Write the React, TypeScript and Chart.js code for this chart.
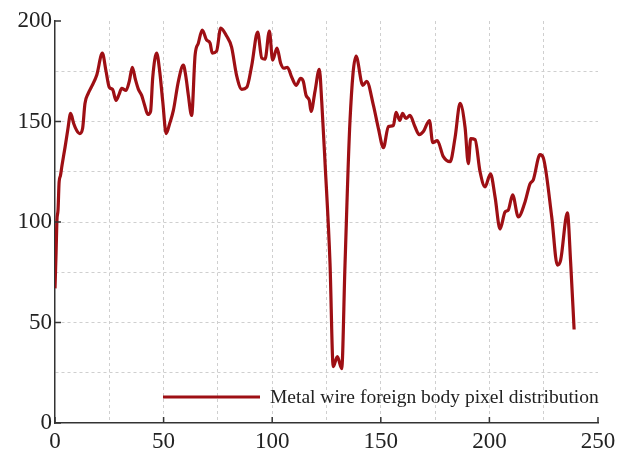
import React, { useEffect, useRef } from "react";
import { Chart, registerables } from "chart.js";

Chart.register(...registerables);

const seriesLabel = "Metal wire foreign body pixel distribution";

const xValues = [
  0, 0.5, 0.9, 1.4, 1.9, 2.5, 3.2, 4.6, 5.9, 7.2, 8.6, 10, 11.4, 12.7, 13.8, 15.3, 16.9, 19.2, 21.8, 23.5,
  25, 26.5, 28.1, 29.5, 30.7, 32.7, 34.2, 35.6, 37, 38.4, 39.9, 41.3, 42.7, 44, 45, 46.8, 48.2, 49.6, 51.2, 52.8,
  54.5, 56.8, 59.1, 60.3, 61.4, 62.9, 64.5, 66, 67.8, 69.8, 71.4, 72.4, 74.4, 76.3, 79, 81.3, 83.6, 86, 88.3, 90.6,
  93.3, 95.2, 96.7, 98.7, 100.2, 102.2, 103.9, 105.4, 107, 109, 111, 113.1, 114.3, 115.6, 117.1, 117.9, 119.7, 121.7, 122.8, 124.3,
  126.6, 128.1, 130, 132, 133.5, 135.8, 138.6, 141.7, 143.5, 146.6, 148.9, 151.2, 153.5, 155.8, 157, 158.8, 160, 161.6, 163.4, 165.7,
  167.7, 169.6, 172.4, 173.9, 176, 178.8, 181.9, 184.2, 186.5, 188.8, 190.3, 191.4, 193.4, 195.7, 198, 200.5, 202.6, 204.9, 207.2, 208.7,
  210.7, 213.3, 216.4, 218.7, 220.2, 223.3, 224.8, 228.7, 231.3, 232.8, 235.9, 237.4, 239,
];

const yValues = [
  67, 85, 101, 106, 120, 123, 128, 137, 146, 154, 149, 145.5, 144, 146.5, 159, 164, 167.5, 173, 184, 175,
  167, 166, 160.5, 163.5, 166.5, 165.5, 170, 177, 171, 166, 163, 158, 153.5, 155, 172, 184, 175, 160, 144, 149,
  155.5, 170, 178, 172, 163, 153, 183, 189, 195.5, 190.5, 189, 184, 185, 196.5, 192.5, 187, 173, 166, 167, 178,
  194.5, 181.5, 181, 195, 180.5, 186.5, 179, 176.5, 177, 172, 168, 171.5, 170, 163, 160.5, 155, 165, 176, 160, 130,
  80, 28, 33, 27, 78, 150, 182.5, 168, 170, 158, 146.5, 137, 147.5, 148, 154.5, 150.5, 154, 151.5, 153, 147.5,
  143.5, 145, 150.5, 139.5, 140.5, 132.5, 130, 142, 159, 147, 129, 141.5, 141, 125, 117.5, 124, 112.5, 96.5, 105, 106,
  113.5, 102.5, 110, 119, 121, 133.5, 132, 102.5, 78.5, 81, 104.5, 80, 46.5,
];

const xTickLabels = [0, 50, 100, 150, 200, 250];
const yTickLabels = [0, 50, 100, 150, 200];

const LINE_COLOR = "#9e0f14";
const AXIS_COLOR = "#333333";
const FONT = "'Liberation Serif', 'Times New Roman', serif";

export default function App() {
  const ref = useRef<HTMLCanvasElement | null>(null);

  useEffect(() => {
    if (!ref.current) return;

    const innerTicks = {
      id: "innerTicks",
      afterDraw(chart: any) {
        const { ctx, chartArea, scales } = chart;
        ctx.save();
        ctx.strokeStyle = AXIS_COLOR;
        ctx.lineWidth = 1.5;
        ctx.beginPath();
        yTickLabels.forEach((v) => {
          const y = scales.y.getPixelForValue(v);
          ctx.moveTo(chartArea.left, y);
          ctx.lineTo(chartArea.left + 6, y);
        });
        xTickLabels.forEach((v) => {
          const x = scales.x.getPixelForValue(v);
          ctx.moveTo(x, chartArea.bottom);
          ctx.lineTo(x, chartArea.bottom - 6);
        });
        ctx.stroke();

        // legend
        const ly = 397;
        ctx.strokeStyle = LINE_COLOR;
        ctx.lineWidth = 3;
        ctx.beginPath();
        ctx.moveTo(163, ly);
        ctx.lineTo(260, ly);
        ctx.stroke();
        ctx.fillStyle = "#222";
        ctx.font = `19.5px ${FONT}`;
        ctx.textBaseline = "middle";
        ctx.textAlign = "left";
        ctx.fillText(seriesLabel, 270, ly + 1);
        ctx.restore();
      },
    };

    const gridColor = (max: number) => (c: any) => {
      const v = c.tick ? c.tick.value : null;
      return v === 0 || v === max ? "rgba(0,0,0,0)" : "#cfcfcf";
    };

    const chart = new Chart(ref.current, {
      type: "line",
      data: {
        datasets: [
          {
            label: seriesLabel,
            data: xValues.map((x, i) => ({ x, y: yValues[i] })),
            borderColor: LINE_COLOR,
            borderWidth: 3.2,
            pointRadius: 0,
            tension: 0.4,
            cubicInterpolationMode: "monotone",
            fill: false,
          },
        ],
      },
      options: {
        animation: false,
        responsive: false,
        layout: { padding: { top: 21, right: 19, left: 0, bottom: 0 } },
        plugins: { legend: { display: false }, tooltip: { enabled: false } },
        scales: {
          x: {
            type: "linear",
            min: 0,
            max: 250,
            afterFit: (s: any) => {
              s.height = 29;
              s.paddingLeft = 0;
              s.paddingRight = 0;
            },
            ticks: {
              stepSize: 25,
              autoSkip: false,
              maxRotation: 0,
              padding: 5,
              color: "#222",
              font: { family: FONT, size: 23 },
              callback: (v: any) => (xTickLabels.includes(Number(v)) ? String(v) : ""),
            },
            grid: { color: gridColor(250), drawTicks: false, lineWidth: 1 },
            border: { color: AXIS_COLOR, width: 1.5, dash: [3, 3] },
          },
          y: {
            min: 0,
            max: 200,
            afterFit: (s: any) => {
              s.width = 55;
              s.paddingTop = 0;
              s.paddingBottom = 0;
            },
            ticks: {
              stepSize: 25,
              autoSkip: false,
              padding: 3,
              color: "#222",
              font: { family: FONT, size: 23 },
              callback: (v: any) => (yTickLabels.includes(Number(v)) ? String(v) : ""),
            },
            grid: { color: gridColor(200), drawTicks: false, lineWidth: 1 },
            border: { color: AXIS_COLOR, width: 1.5, dash: [3, 3] },
          },
        },
      },
      plugins: [innerTicks],
    });

    return () => chart.destroy();
  }, []);

  return (
    <div style={{ position: "absolute", left: 0, top: 0, width: 617, height: 452, background: "#fff" }}>
      <canvas ref={ref} width={617} height={452} />
    </div>
  );
}
